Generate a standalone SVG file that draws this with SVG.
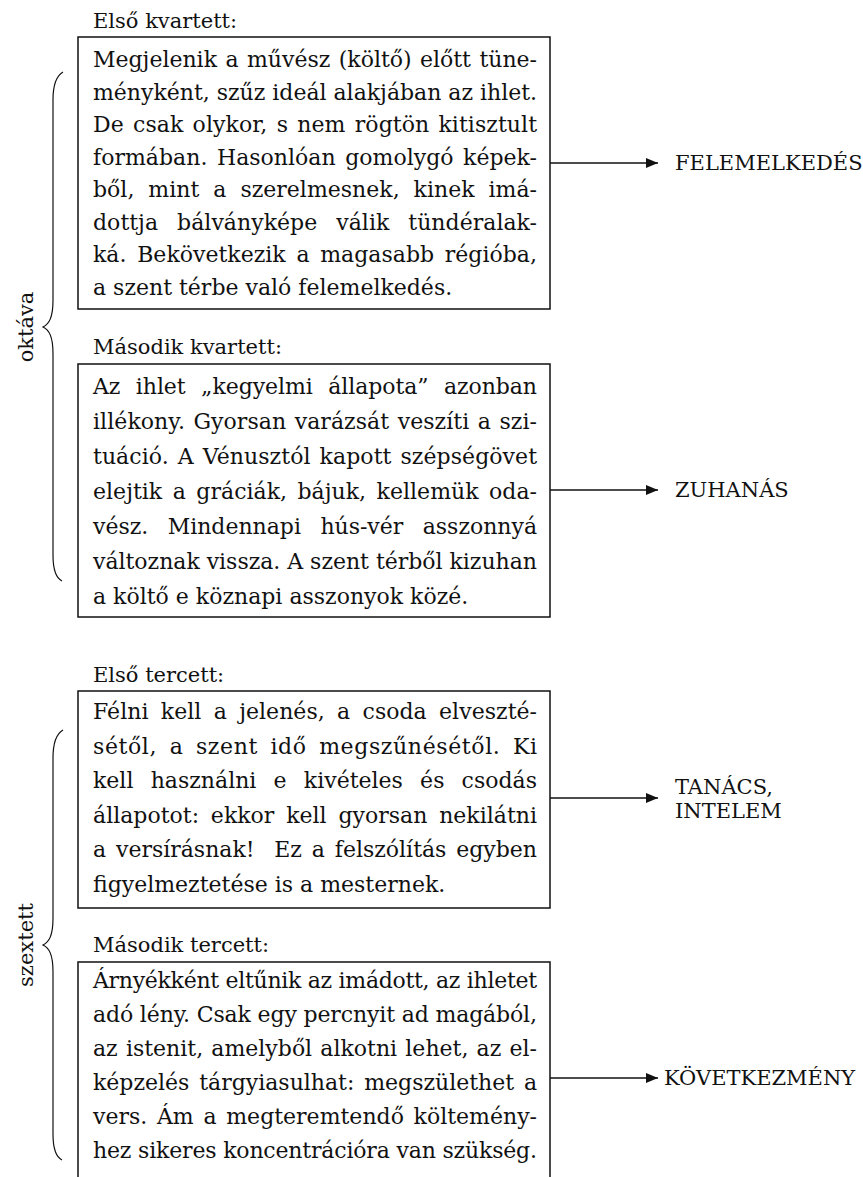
<svg xmlns="http://www.w3.org/2000/svg" width="863" height="1177" viewBox="0 0 863 1177">
<style>
text{font-family:"DejaVu Serif","Liberation Serif",serif;font-size:21px;fill:#111}
.b{font-size:22px}
.box{fill:none;stroke:#111;stroke-width:1.5}
.con{fill:none;stroke:#111;stroke-width:1.4}
.brace{fill:none;stroke:#111;stroke-width:1.2}
</style>
<defs>
<marker id="ah" viewBox="0 0 12 10" refX="12" refY="5" markerWidth="12" markerHeight="10" markerUnits="userSpaceOnUse" orient="auto">
<path d="M0,0 L12,5 L0,10 Z" fill="#111"/>
</marker>
</defs>

<g id="brace-oktava">
<path class="brace" d="M63,72 C56,76 53,84 53,100 L53,300 C53,318 49,324 43,327 C49,330 53,336 53,354 L53,555 C53,570 56,578 62,581"/>
<text transform="translate(33,327) rotate(-90)" text-anchor="middle">oktáva</text>
</g>
<g id="brace-szextett">
<path class="brace" d="M63,730 C56,734 53,742 53,758 L53,918 C53,936 49,942 43,945 C49,948 53,954 53,972 L53,1134 C53,1149 56,1157 62,1160"/>
<text transform="translate(33,945) rotate(-90)" text-anchor="middle">szextett</text>
</g>

<g id="kvartett1">
<text x="93" y="28">Első kvartett:</text>
<rect class="box" x="78" y="37" width="472" height="272"/>
<text class="b" x="93" y="67" word-spacing="1.5" textLength="444" lengthAdjust="spacing">Megjelenik a művész (költő) előtt tüne-</text>
<text class="b" x="93" y="99.5" textLength="444" lengthAdjust="spacing">ményként, szűz ideál alakjában az ihlet.</text>
<text class="b" x="93" y="132" word-spacing="2.2" textLength="444" lengthAdjust="spacing">De csak olykor, s nem rögtön kitisztult</text>
<text class="b" x="93" y="164.5" word-spacing="2.5" textLength="444" lengthAdjust="spacing">formában. Hasonlóan gomolygó képek-</text>
<text class="b" x="93" y="197" word-spacing="7" textLength="444" lengthAdjust="spacing">ből, mint a szerelmesnek, kinek imá-</text>
<text class="b" x="93" y="229.5" word-spacing="12" textLength="444" lengthAdjust="spacing">dottja bálványképe válik tündéralak-</text>
<text class="b" x="93" y="262" word-spacing="3.7" textLength="444" lengthAdjust="spacing">ká. Bekövetkezik a magasabb régióba,</text>
<text class="b" x="93" y="294.5">a szent térbe való felemelkedés.</text>
</g>

<g id="kvartett2">
<text x="93" y="354">Második kvartett:</text>
<rect class="box" x="78" y="364" width="472" height="253"/>
<text class="b" x="93" y="394" word-spacing="8.6" textLength="444" lengthAdjust="spacing">Az ihlet „kegyelmi állapota” azonban</text>
<text class="b" x="93" y="429" word-spacing="1.4" textLength="444" lengthAdjust="spacing">illékony. Gyorsan varázsát veszíti a szi-</text>
<text class="b" x="93" y="464" word-spacing="2" textLength="444" lengthAdjust="spacing">tuáció. A Vénusztól kapott szépségövet</text>
<text class="b" x="93" y="499" word-spacing="3.5" textLength="444" lengthAdjust="spacing">elejtik a gráciák, bájuk, kellemük oda-</text>
<text class="b" x="93" y="534" word-spacing="12.5" textLength="444" lengthAdjust="spacing">vész. Mindennapi hús-vér asszonnyá</text>
<text class="b" x="93" y="569" textLength="444" lengthAdjust="spacing">változnak vissza. A szent térből kizuhan</text>
<text class="b" x="93" y="604">a költő e köznapi asszonyok közé.</text>
</g>

<g id="tercett1">
<text x="93" y="682">Első tercett:</text>
<rect class="box" x="78" y="691" width="472" height="217"/>
<text class="b" x="93" y="719" word-spacing="5.3" textLength="444" lengthAdjust="spacing">Félni kell a jelenés, a csoda elveszté-</text>
<text class="b" x="93" y="753.6" word-spacing="4.9" textLength="444" lengthAdjust="spacing">sétől, a szent idő megszűnésétől. Ki</text>
<text class="b" x="93" y="788.2" word-spacing="10.2" textLength="444" lengthAdjust="spacing">kell használni e kivételes és csodás</text>
<text class="b" x="93" y="822.8" word-spacing="4.8" textLength="444" lengthAdjust="spacing">állapotot: ekkor kell gyorsan nekilátni</text>
<text class="b" x="93" y="857.4" word-spacing="2.9" textLength="444" lengthAdjust="spacing" xml:space="preserve">a versírásnak!  Ez a felszólítás egyben</text>
<text class="b" x="93" y="892">figyelmeztetése is a mesternek.</text>
</g>

<g id="tercett2">
<text x="93" y="952">Második tercett:</text>
<rect class="box" x="78" y="962" width="472" height="240"/>
<text class="b" x="93" y="988" textLength="444" lengthAdjust="spacing">Árnyékként eltűnik az imádott, az ihletet</text>
<text class="b" x="93" y="1022" textLength="444" lengthAdjust="spacing">adó lény. Csak egy percnyit ad magából,</text>
<text class="b" x="93" y="1056" word-spacing="1.2" textLength="444" lengthAdjust="spacing">az istenit, amelyből alkotni lehet, az el-</text>
<text class="b" x="93" y="1090" word-spacing="2.8" textLength="444" lengthAdjust="spacing">képzelés tárgyiasulhat: megszülethet a</text>
<text class="b" x="93" y="1124" word-spacing="2.7" textLength="444" lengthAdjust="spacing">vers. Ám a megteremtendő költemény-</text>
<text class="b" x="93" y="1158" textLength="444" lengthAdjust="spacing">hez sikeres koncentrációra van szükség.</text>
</g>

<g id="connectors">
<line class="con" x1="550" y1="163" x2="658" y2="163" marker-end="url(#ah)"/>
<line class="con" x1="550" y1="490" x2="658" y2="490" marker-end="url(#ah)"/>
<line class="con" x1="550" y1="798" x2="658" y2="798" marker-end="url(#ah)"/>
<line class="con" x1="550" y1="1078" x2="658" y2="1078" marker-end="url(#ah)"/>
</g>

<g id="felemelkedes"><text x="675" y="170">FELEMELKEDÉS</text></g>
<g id="zuhanas"><text x="675" y="497">ZUHANÁS</text></g>
<g id="tanacs"><text x="675" y="794">TANÁCS,</text><text x="675" y="818">INTELEM</text></g>
<g id="kovetkezmeny"><text x="664" y="1085">KÖVETKEZMÉNY</text></g>
</svg>
